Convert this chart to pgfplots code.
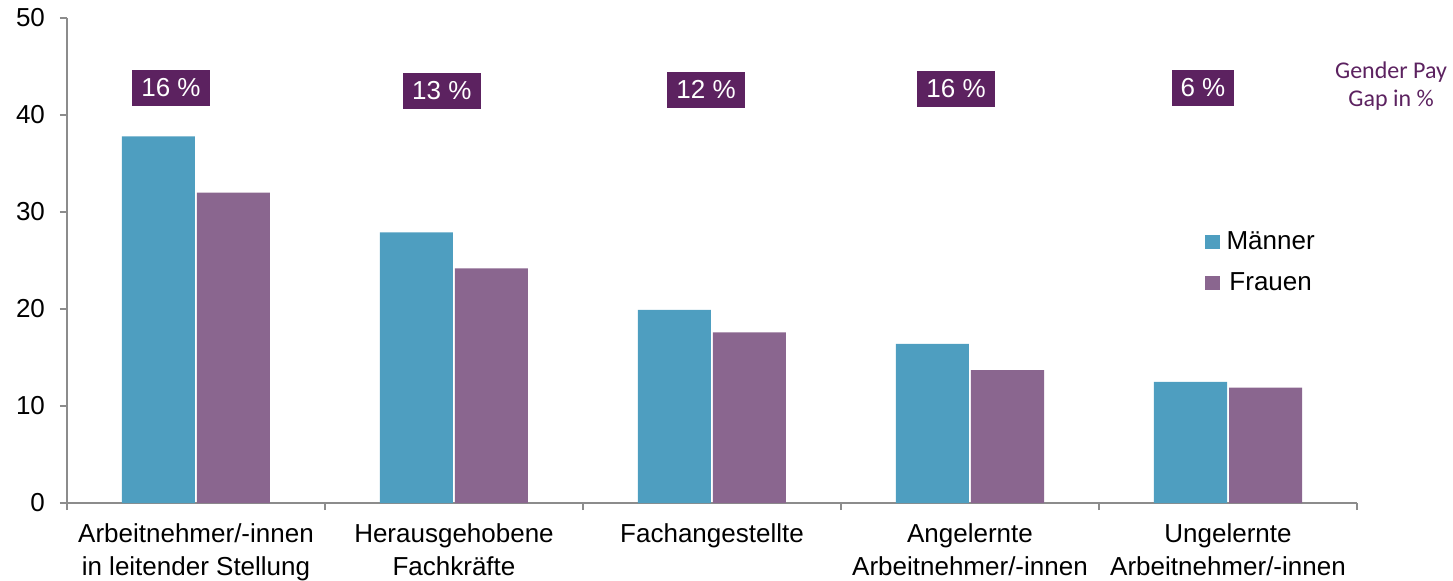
\documentclass[border=0pt]{standalone}
\usepackage{fontspec}
\setmainfont{Liberation Sans}
\newfontfamily\calibri{Carlito}
\usepackage{pgfplots}
\pgfplotsset{compat=1.18}
\definecolor{maenner}{HTML}{4E9EC0}
\definecolor{frauen}{HTML}{8A668F}
\definecolor{gpg}{HTML}{5C2260}
\definecolor{axgray}{HTML}{8C8C8C}
\begin{document}
\begin{tikzpicture}
\begin{axis}[
  scale only axis, width=645pt, height=242.5pt,
  xmin=-0.5, xmax=4.5, ymin=0, ymax=50,
  clip=false,
  axis lines*=left,
  axis line style={axgray, line width=0.75pt},
  tick align=outside,
  tick style={axgray, line width=0.75pt},
  major tick length=3.5pt, minor tick length=3.5pt,
  ytick={0,10,...,50},
  xtick={0,...,4},
  major x tick style={draw=none},
  minor xtick={-0.5,0.5,...,4.5},
  xticklabels={{Arbeitnehmer/-innen\\in leitender Stellung},{Herausgehobene\\Fachkräfte},{Fachangestellte},{Angelernte\\Arbeitnehmer/-innen},{Ungelernte\\Arbeitnehmer/-innen}},
  x tick label style={align=center, font=\fontsize{13}{16.5}\selectfont, anchor=north, yshift=-3.5pt},
  y tick label style={font=\fontsize{13}{15}\selectfont, xshift=-4pt},
  /pgf/number format/assume math mode=true,
  legend style={at={(rel axis cs:0.882,0.567)}, anchor=north west, draw=none, fill=none,
    inner sep=0pt, row sep=7pt, column sep=2pt, font=\fontsize{13}{15}\selectfont,
    nodes={inner sep=1.5pt}},
  legend image code/.code={\fill[#1] (0pt,-3.8pt) rectangle (7.2pt,3.2pt);},
]
\addplot[ybar, fill=maenner, draw=none, bar width=36.5pt, bar shift=-18.75pt]
  coordinates {(0,37.8) (1,27.9) (2,19.9) (3,16.4) (4,12.5)};
\addplot[ybar, fill=frauen, draw=none, bar width=36.5pt, bar shift=18.75pt]
  coordinates {(0,32.0) (1,24.2) (2,17.6) (3,13.7) (4,11.9)};
\legend{Männer, Frauen}
\tikzset{gbox/.style={fill=gpg, text=white, inner xsep=4.5pt, minimum height=18pt, font=\fontsize{13}{15}\selectfont}}
\node[gbox] at (axis cs:-0.097,42.8) {16 \%};
\node[gbox] at (axis cs:0.953,42.5) {13 \%};
\node[gbox] at (axis cs:1.977,42.6) {12 \%};
\node[gbox] at (axis cs:2.946,42.7) {16 \%};
\node[gbox] at (axis cs:3.903,42.8) {6 \%};
\node[font=\calibri\fontsize{12}{14}\selectfont, text=gpg, align=center] at (rel axis cs:1.0264,0.86) {Gender Pay\\Gap in \%};
\end{axis}
\pgfresetboundingbox
\path (-33.5pt,-38.5pt) rectangle (693pt,251.5pt);
\end{tikzpicture}
\end{document}
